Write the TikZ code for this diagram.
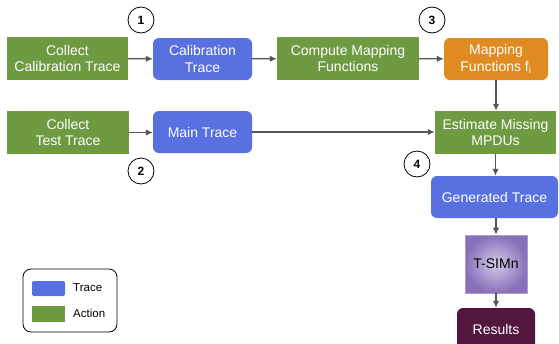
\documentclass[tikz,border=0pt]{standalone}
\usepackage{fontspec}
\setmainfont{Liberation Sans}
\usetikzlibrary{arrows.meta}
\definecolor{actg}{HTML}{6E9A41}
\definecolor{traceb}{HTML}{5870E0}
\definecolor{mapo}{HTML}{E08B22}
\definecolor{resm}{HTML}{53163D}
\definecolor{arrg}{HTML}{555555}
\definecolor{tsin}{HTML}{D2CAE8}
\definecolor{tsout}{HTML}{8870BA}
\tikzset{
  box/.style={inner sep=0pt, align=center, text=white,
    font=\fontsize{14}{16.5}\selectfont},
  actbox/.style={box, fill=actg},
  trbox/.style={box, fill=traceb, rounded corners=6pt},
  mapbox/.style={box, fill=mapo, rounded corners=6pt},
  resbox/.style={box, fill=resm, rounded corners=6pt},
  numc/.style={circle, draw=black, line width=0.8pt, inner sep=0pt, minimum size=26pt,
    font=\fontsize{12}{12}\selectfont\bfseries},
  conn/.style={draw=arrg, line width=1.3pt, -{Latex[length=7pt,width=6.5pt]}},
  legtxt/.style={anchor=west, inner sep=0pt, font=\fontsize{11.5}{12}\selectfont},
}
\begin{document}
\begin{tikzpicture}[x=1pt,y=-1pt]
\useasboundingbox (0,0) rectangle (559,343);
\clip (0,0) rectangle (559,343);
\fill[white] (0,0) rectangle (559,343);

\node[actbox, minimum width=121pt, minimum height=43pt] (cct) at (67.5,58.5) {Collect\\Calibration Trace};
\node[trbox, minimum width=99pt, minimum height=42pt] (ct) at (202.5,59) {Calibration\\Trace};
\node[actbox, minimum width=142pt, minimum height=43pt] (cmf) at (348,58.5) {Compute Mapping\\Functions};
\node[mapbox, minimum width=104pt, minimum height=42pt] (mf) at (496,59) {Mapping\\Functions f\textsubscript{i}};
\node[actbox, minimum width=122pt, minimum height=43pt] (ctt) at (68,132.5) {Collect\\Test Trace};
\node[trbox, minimum width=99pt, minimum height=42pt] (mt) at (202.5,132) {Main Trace};
\node[actbox, minimum width=121pt, minimum height=43pt] (em) at (495.5,132.5) {Estimate Missing\\MPDUs};
\node[trbox, minimum width=127pt, minimum height=42pt] (gt) at (494.5,197) {Generated Trace};
\node[box, text=black, draw=tsout!70!white, line width=0.6pt, shading=radial, inner color=tsin, outer color=tsout,
  minimum width=62pt, minimum height=58pt] (ts) at (496,264) {T-SIMn};
\node[resbox, minimum width=78pt, minimum height=42pt] (res) at (496,329) {Results};

\node[numc] (n1) at (141,20) {1};
\node[numc] (n2) at (141,171) {2};
\node[numc] (n3) at (432,20) {3};
\node[numc] (n4) at (417,164) {4};

\draw[conn] (cct) -- (ct);
\draw[conn] (ct) -- (cmf);
\draw[conn] (cmf) -- (mf);
\draw[conn] (ctt.east) -- (ctt.east -| mt.west);
\draw[conn] (mt.east) -- (mt.east -| em.west);
\draw[conn] (mf.south) -- (mf.south |- em.north);
\draw[conn] (em.south) -- (em.south |- gt.north);
\draw[conn] (gt.south -| ts.north) -- (ts.north);
\draw[conn] (ts.south) -- (ts.south |- res.north);

% legend
\node[draw=black, line width=0.8pt, rounded corners=8pt, minimum width=94pt, minimum height=63pt, inner sep=0pt] (leg) at (70,300.5) {};
\node[fill=traceb, rounded corners=2pt, minimum width=33pt, minimum height=15pt, inner sep=0pt] (lt) at (48.5,288.5) {};
\node[fill=actg, minimum width=33pt, minimum height=16pt, inner sep=0pt] (la) at (48.5,314) {};
\node[legtxt] (ltt) at (73,288) {Trace};
\node[legtxt] (lat) at (73,313) {Action};
\end{tikzpicture}
\end{document}
